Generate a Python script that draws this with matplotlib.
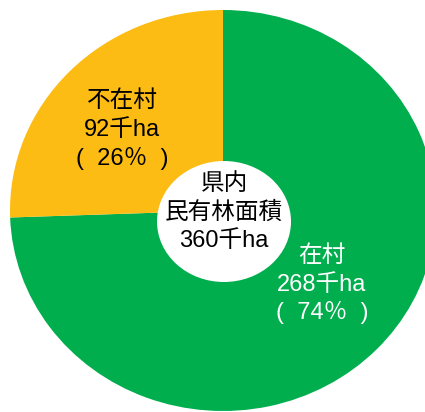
import matplotlib.pyplot as plt
from matplotlib.patches import Ellipse

plt.rcParams['font.family'] = ['Liberation Sans', 'Noto Sans CJK JP', 'DejaVu Sans']

# データ (千ha)
labels = ['在村', '不在村']
areas = [268, 92]
shares = [74, 26]
total = 360
colors = ['#00AE4D', '#FCBC14']

W, H = 425, 412
fig = plt.figure(figsize=(W / 100, H / 100), dpi=100)

# 円グラフの外接矩形 (ピクセル) : 横にやや広い楕円
cx, cy, rx, ry = 223, 210.5, 213, 200.5
ax = fig.add_axes([(cx - rx) / W, (H - cy - ry) / H, 2 * rx / W, 2 * ry / H])
ax.pie(areas, colors=colors, startangle=90, counterclock=False,
       radius=1, wedgeprops=dict(linewidth=0))
ax.set_aspect('auto')
ax.set_xlim(-1, 1)
ax.set_ylim(-1, 1)
ax.axis('off')


def px(x, y):
    # ピクセル座標 -> データ座標
    return (x - cx) / rx, (cy - y) / ry


# 中央の白い円
hx, hy = px(224, 221.5)
ax.add_patch(Ellipse((hx, hy), 134 / rx, 121 / ry, color='white', lw=0, zorder=5))

fs = 17
center_lines = ['県内', '民有林面積', f'{total}千ha']
for line, y in zip(center_lines, [184, 213, 241]):
    ax.text(*px(224, y), line, ha='center', va='center', fontsize=fs,
            color='black', zorder=6)

# 不在村ラベル
for line, y in zip([labels[1], f'{areas[1]}千ha', f'(  {shares[1]}％  )'], [101, 130, 158]):
    ax.text(*px(122, y), line, ha='center', va='center', fontsize=fs, color='black')

# 在村ラベル
for line, y in zip([labels[0], f'{areas[0]}千ha', f'(  {shares[0]}％  )'], [256, 285, 313]):
    ax.text(*px(322, y), line, ha='center', va='center', fontsize=fs, color='white')

fig.savefig('out.png', dpi=100)
